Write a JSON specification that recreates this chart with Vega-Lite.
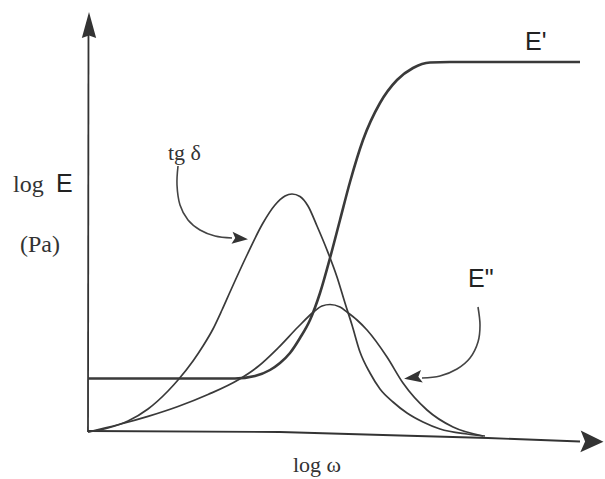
{
  "$schema": "https://vega.github.io/schema/vega-lite/v6.json",
  "width": 605,
  "height": 479,
  "autosize": {"type": "fit", "contains": "padding"},
  "padding": 0,
  "background": "white",
  "view": {"stroke": null},
  "config": {"line": {"color": "#383838"}, "text": {"color": "#2a2a2a"}},
  "datasets": {
    "curves": [
      {"curve": "E'", "x": 0, "y": 5.35},
      {"curve": "E'", "x": 7.2, "y": 5.35},
      {"curve": "E'", "x": 14.7, "y": 5.35},
      {"curve": "E'", "x": 16.7, "y": 5.6},
      {"curve": "E'", "x": 18.2, "y": 6.2},
      {"curve": "E'", "x": 19.2, "y": 6.9},
      {"curve": "E'", "x": 20.2, "y": 7.9},
      {"curve": "E'", "x": 21.2, "y": 9.4},
      {"curve": "E'", "x": 22.2, "y": 11.2},
      {"curve": "E'", "x": 23.2, "y": 13.9},
      {"curve": "E'", "x": 24.2, "y": 17.4},
      {"curve": "E'", "x": 25.2, "y": 21.2},
      {"curve": "E'", "x": 26.2, "y": 25.0},
      {"curve": "E'", "x": 27.5, "y": 29.2},
      {"curve": "E'", "x": 29.2, "y": 32.9},
      {"curve": "E'", "x": 30.9, "y": 35.2},
      {"curve": "E'", "x": 32.5, "y": 36.4},
      {"curve": "E'", "x": 34.2, "y": 36.95},
      {"curve": "E'", "x": 36.2, "y": 37.0},
      {"curve": "E'", "x": 41.2, "y": 37.0},
      {"curve": "E'", "x": 49.2, "y": 37.0},
      {"curve": "E''", "x": 0, "y": 0},
      {"curve": "E''", "x": 3, "y": 0.72},
      {"curve": "E''", "x": 6, "y": 1.56},
      {"curve": "E''", "x": 9, "y": 2.55},
      {"curve": "E''", "x": 12, "y": 3.75},
      {"curve": "E''", "x": 15, "y": 5.2},
      {"curve": "E''", "x": 17, "y": 6.55},
      {"curve": "E''", "x": 19, "y": 8.4},
      {"curve": "E''", "x": 21, "y": 10.5},
      {"curve": "E''", "x": 22.5, "y": 11.95},
      {"curve": "E''", "x": 23.4, "y": 12.6},
      {"curve": "E''", "x": 24.2, "y": 12.75},
      {"curve": "E''", "x": 25.2, "y": 12.5},
      {"curve": "E''", "x": 25.9, "y": 12.0},
      {"curve": "E''", "x": 26.9, "y": 11.2},
      {"curve": "E''", "x": 27.9, "y": 10.2},
      {"curve": "E''", "x": 29.9, "y": 7.5},
      {"curve": "E''", "x": 31.5, "y": 4.9},
      {"curve": "E''", "x": 33.9, "y": 2.2},
      {"curve": "E''", "x": 36.5, "y": 0.5},
      {"curve": "E''", "x": 39.5, "y": -0.4},
      {"curve": "tg", "x": 0, "y": 0},
      {"curve": "tg", "x": 2, "y": 0.4},
      {"curve": "tg", "x": 4, "y": 1.1},
      {"curve": "tg", "x": 6, "y": 2.3},
      {"curve": "tg", "x": 8, "y": 4.1},
      {"curve": "tg", "x": 9, "y": 5.2},
      {"curve": "tg", "x": 10.5, "y": 7.1},
      {"curve": "tg", "x": 11.5, "y": 8.6},
      {"curve": "tg", "x": 12.5, "y": 10.3},
      {"curve": "tg", "x": 13.4, "y": 12.2},
      {"curve": "tg", "x": 14.2, "y": 14.0},
      {"curve": "tg", "x": 15.9, "y": 17.7},
      {"curve": "tg", "x": 17.5, "y": 20.9},
      {"curve": "tg", "x": 18.7, "y": 22.7},
      {"curve": "tg", "x": 19.7, "y": 23.6},
      {"curve": "tg", "x": 20.4, "y": 23.8},
      {"curve": "tg", "x": 21.2, "y": 23.55},
      {"curve": "tg", "x": 22.0, "y": 22.6},
      {"curve": "tg", "x": 22.9, "y": 20.6},
      {"curve": "tg", "x": 23.9, "y": 18.2},
      {"curve": "tg", "x": 24.9, "y": 15.5},
      {"curve": "tg", "x": 25.7, "y": 12.9},
      {"curve": "tg", "x": 26.4, "y": 10.7},
      {"curve": "tg", "x": 27.2, "y": 8.0},
      {"curve": "tg", "x": 28.2, "y": 5.9},
      {"curve": "tg", "x": 29.2, "y": 4.3},
      {"curve": "tg", "x": 30.5, "y": 3.0},
      {"curve": "tg", "x": 31.9, "y": 1.9},
      {"curve": "tg", "x": 33.5, "y": 1.0},
      {"curve": "tg", "x": 35.2, "y": 0.3},
      {"curve": "tg", "x": 37.9, "y": -0.2},
      {"curve": "tg", "x": 39.7, "y": -0.4}
    ],
    "axes": [
      {"axis": "y", "i": 0, "x": 0, "y": 0},
      {"axis": "y", "i": 1, "x": 0.05, "y": 40.2},
      {"axis": "x", "i": 0, "x": 0, "y": 0.1},
      {"axis": "x", "i": 1, "x": 19.2, "y": 0},
      {"axis": "x", "i": 2, "x": 31.2, "y": -0.35},
      {"axis": "x", "i": 3, "x": 40.0, "y": -0.6},
      {"axis": "x", "i": 4, "x": 49.2, "y": -0.95}
    ],
    "pointers": [
      {"to": "tg", "i": 0, "x": 9.0, "y": 26.6},
      {"to": "tg", "i": 1, "x": 8.9, "y": 24.7},
      {"to": "tg", "i": 2, "x": 9.2, "y": 22.7},
      {"to": "tg", "i": 3, "x": 10.0, "y": 21.2},
      {"to": "tg", "i": 4, "x": 11.2, "y": 20.2},
      {"to": "tg", "i": 5, "x": 12.7, "y": 19.6},
      {"to": "tg", "i": 6, "x": 14.4, "y": 19.4},
      {"to": "E''", "i": 0, "x": 39.0, "y": 12.5},
      {"to": "E''", "i": 1, "x": 39.2, "y": 10.7},
      {"to": "E''", "i": 2, "x": 39.0, "y": 9.0},
      {"to": "E''", "i": 3, "x": 38.2, "y": 7.4},
      {"to": "E''", "i": 4, "x": 36.9, "y": 6.3},
      {"to": "E''", "i": 5, "x": 35.2, "y": 5.6},
      {"to": "E''", "i": 6, "x": 33.4, "y": 5.4}
    ],
    "heads": [
      {"head": "yaxis", "x": 0.1, "y": 40.7},
      {"head": "xaxis", "x": 50.4, "y": -0.95},
      {"head": "tg", "x": 15.2, "y": 19.35},
      {"head": "E''", "x": 32.5, "y": 5.45}
    ],
    "axisLabels": [
      {"label": "log", "x": -7.5, "y": 24.0},
      {"label": "(Pa)", "x": -6.8, "y": 18.0}
    ],
    "serifLabels": [
      {"label": "tg δ", "x": 8.0, "y": 27.2},
      {"label": "log ω", "x": 20.5, "y": -4.0}
    ],
    "sansLabels": [
      {"label": "E", "x": -3.2, "y": 24.0},
      {"label": "E'", "x": 43.7, "y": 38.2},
      {"label": "E\"", "x": 38.0, "y": 14.5}
    ]
  },
  "encoding": {
    "x": {"field": "x", "type": "quantitative", "axis": null, "scale": {"domain": [-8.8, 51.7], "nice": false, "zero": false}},
    "y": {"field": "y", "type": "quantitative", "axis": null, "scale": {"domain": [-4.7, 43.2], "nice": false, "zero": false}}
  },
  "layer": [
    {
      "data": {"name": "axes"},
      "mark": {"type": "line", "strokeWidth": 1.8, "color": "#333333"},
      "encoding": {"detail": {"field": "axis"}, "order": {"field": "i", "type": "quantitative"}}
    },
    {
      "data": {"name": "curves"},
      "transform": [{"filter": "datum.curve === \"E'\""}],
      "mark": {"type": "line", "interpolate": "monotone", "strokeWidth": 2.6, "color": "#3a3a3a"},
      "encoding": {}
    },
    {
      "data": {"name": "curves"},
      "transform": [{"filter": "datum.curve !== \"E'\""}],
      "mark": {"type": "line", "interpolate": "monotone", "strokeWidth": 1.7, "color": "#3a3a3a"},
      "encoding": {"detail": {"field": "curve"}}
    },
    {
      "data": {"name": "pointers"},
      "mark": {"type": "line", "interpolate": "cardinal", "strokeWidth": 1.6, "color": "#444444"},
      "encoding": {"detail": {"field": "to"}, "order": {"field": "i", "type": "quantitative"}}
    },
    {
      "data": {"name": "heads"},
      "transform": [{"filter": "datum.head === 'yaxis'"}],
      "mark": {"type": "point", "filled": true, "opacity": 1, "color": "#333333", "shape": "M0,-1L0.55,1L0,0.8L-0.55,1Z", "size": 676}
    },
    {
      "data": {"name": "heads"},
      "transform": [{"filter": "datum.head === 'xaxis'"}],
      "mark": {"type": "point", "filled": true, "opacity": 1, "color": "#333333", "shape": "M0,-1L0.95,1L0,0.6L-0.95,1Z", "size": 529, "angle": 91}
    },
    {
      "data": {"name": "heads"},
      "transform": [{"filter": "datum.head === 'tg'"}],
      "mark": {"type": "point", "filled": true, "opacity": 1, "color": "#333333", "shape": "M0,-1L0.75,1L0,0.6L-0.75,1Z", "size": 256, "angle": 95}
    },
    {
      "data": {"name": "heads"},
      "transform": [{"filter": "datum.head === \"E''\""}],
      "mark": {"type": "point", "filled": true, "opacity": 1, "color": "#333333", "shape": "M0,-1L0.7,1L0,0.6L-0.7,1Z", "size": 324, "angle": 262}
    },
    {
      "data": {"name": "axisLabels"},
      "mark": {"type": "text", "font": "Liberation Serif", "fontSize": 24, "align": "left", "baseline": "alphabetic", "color": "#333333"},
      "encoding": {"text": {"field": "label"}}
    },
    {
      "data": {"name": "serifLabels"},
      "mark": {"type": "text", "font": "Liberation Serif", "fontSize": 22, "align": "left", "baseline": "alphabetic", "color": "#333333"},
      "encoding": {"text": {"field": "label"}}
    },
    {
      "data": {"name": "sansLabels"},
      "mark": {"type": "text", "font": "Liberation Sans", "fontSize": 25, "align": "left", "baseline": "alphabetic", "color": "#222222"},
      "encoding": {"text": {"field": "label"}}
    }
  ]
}
